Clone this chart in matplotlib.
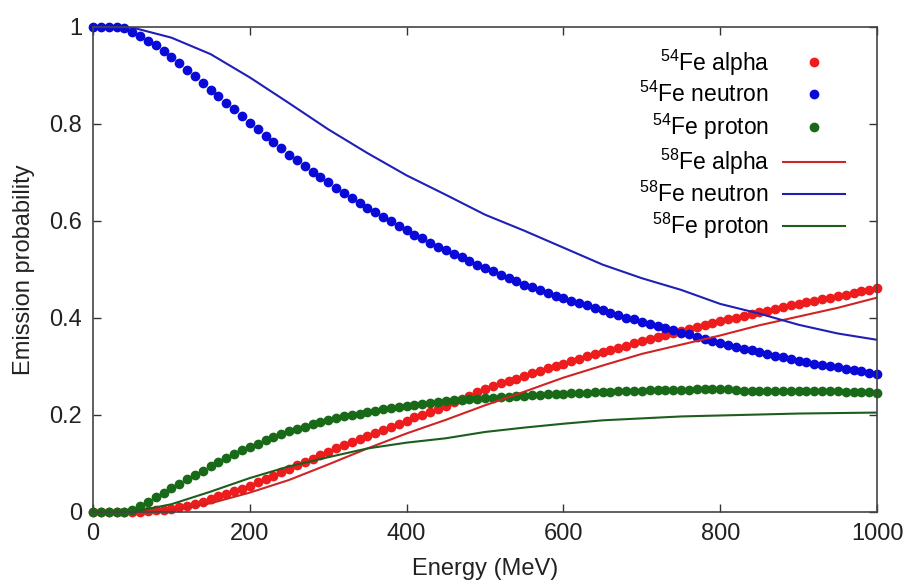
import matplotlib
matplotlib.use("Agg")
import matplotlib.pyplot as plt
import numpy as np

plt.rcParams["font.family"] = ["Liberation Sans", "DejaVu Sans"]
plt.rcParams["mathtext.fontset"] = "custom"
plt.rcParams["mathtext.rm"] = "Liberation Sans"

# 54Fe: Monte Carlo points every 10 MeV
energy_pts = list(range(0, 1001, 10))
fe54_alpha = [
    0.000, 0.000, 0.000, 0.000, 0.000, 0.000, 0.001, 0.002, 0.004, 0.005,
    0.007, 0.010, 0.013, 0.017, 0.021, 0.026, 0.032, 0.037, 0.043, 0.048,
    0.054, 0.061, 0.068, 0.075, 0.082, 0.089, 0.096, 0.103, 0.110, 0.117,
    0.124, 0.131, 0.138, 0.144, 0.151, 0.157, 0.163, 0.170, 0.176, 0.182,
    0.188, 0.195, 0.201, 0.207, 0.213, 0.219, 0.226, 0.233, 0.240, 0.247,
    0.253, 0.259, 0.265, 0.270, 0.275, 0.281, 0.286, 0.291, 0.296, 0.301,
    0.306, 0.311, 0.316, 0.321, 0.325, 0.330, 0.334, 0.339, 0.343, 0.348,
    0.352, 0.356, 0.360, 0.365, 0.369, 0.373, 0.377, 0.381, 0.385, 0.389,
    0.393, 0.397, 0.401, 0.404, 0.408, 0.412, 0.415, 0.419, 0.422, 0.426,
    0.429, 0.432, 0.436, 0.439, 0.442, 0.445, 0.448, 0.452, 0.455, 0.458,
    0.461,
]
fe54_neutron = [
    1.000, 1.000, 1.000, 0.999, 0.997, 0.990, 0.981, 0.972, 0.962, 0.950,
    0.938, 0.925, 0.911, 0.898, 0.885, 0.871, 0.857, 0.844, 0.830, 0.816,
    0.803, 0.789, 0.776, 0.762, 0.750, 0.737, 0.725, 0.713, 0.702, 0.691,
    0.680, 0.669, 0.658, 0.647, 0.637, 0.627, 0.618, 0.608, 0.599, 0.590,
    0.581, 0.572, 0.564, 0.555, 0.547, 0.540, 0.532, 0.525, 0.518, 0.510,
    0.503, 0.496, 0.489, 0.482, 0.476, 0.469, 0.463, 0.457, 0.452, 0.446,
    0.441, 0.436, 0.431, 0.426, 0.421, 0.416, 0.411, 0.406, 0.401, 0.397,
    0.392, 0.388, 0.384, 0.379, 0.375, 0.370, 0.366, 0.361, 0.357, 0.353,
    0.349, 0.345, 0.341, 0.337, 0.333, 0.329, 0.326, 0.322, 0.319, 0.315,
    0.312, 0.309, 0.306, 0.303, 0.300, 0.298, 0.295, 0.292, 0.290, 0.287,
    0.284,
]
fe54_proton = [
    0.000, 0.000, 0.000, 0.000, 0.000, 0.004, 0.012, 0.021, 0.030, 0.040,
    0.049, 0.058, 0.067, 0.076, 0.085, 0.094, 0.103, 0.111, 0.119, 0.127,
    0.134, 0.141, 0.148, 0.154, 0.160, 0.166, 0.171, 0.176, 0.181, 0.185,
    0.189, 0.193, 0.197, 0.200, 0.203, 0.206, 0.209, 0.212, 0.214, 0.217,
    0.219, 0.221, 0.223, 0.225, 0.227, 0.228, 0.230, 0.231, 0.233, 0.234,
    0.235, 0.236, 0.237, 0.238, 0.239, 0.240, 0.241, 0.242, 0.243, 0.244,
    0.244, 0.245, 0.246, 0.246, 0.247, 0.248, 0.248, 0.249, 0.249, 0.250,
    0.250, 0.251, 0.251, 0.252, 0.252, 0.252, 0.252, 0.253, 0.253, 0.253,
    0.253, 0.253, 0.252, 0.250, 0.250, 0.250, 0.250, 0.250, 0.250, 0.249,
    0.249, 0.249, 0.249, 0.249, 0.249, 0.249, 0.248, 0.248, 0.248, 0.248,
    0.246,
]

# 58Fe: curves read every 50 MeV
energy_line = list(range(0, 1001, 50))
fe58_alpha = [0.000, 0.000, 0.004, 0.018, 0.040, 0.066, 0.098, 0.131, 0.162,
              0.190, 0.220, 0.248, 0.277, 0.302, 0.326, 0.345, 0.364, 0.385,
              0.403, 0.421, 0.442]
fe58_neutron = [1.000, 0.999, 0.978, 0.944, 0.896, 0.843, 0.789, 0.740, 0.694,
                0.654, 0.613, 0.580, 0.545, 0.510, 0.482, 0.458, 0.429, 0.409,
                0.386, 0.368, 0.355]
fe58_proton = [0.000, 0.000, 0.016, 0.042, 0.070, 0.094, 0.113, 0.131, 0.143,
               0.152, 0.165, 0.174, 0.182, 0.189, 0.193, 0.197, 0.199, 0.201,
               0.203, 0.204, 0.205]

x_ticks = [0, 200, 400, 600, 800, 1000]
y_ticks = [0, 0.2, 0.4, 0.6, 0.8, 1]
y_tick_labels = ["0", "0.2", "0.4", "0.6", "0.8", "1"]

fig = plt.figure(figsize=(9.04, 5.83), dpi=100)
ax = fig.add_axes([0.1029, 0.1218, 0.8673, 0.8319])

ms = 6
ax.plot(energy_pts, fe54_alpha, "o", ms=ms, color="#ee1c1c", mec="#ee1c1c",
        clip_on=False, label=r"$^{54}$Fe alpha")
ax.plot(energy_pts, fe54_neutron, "o", ms=ms, color="#0a0ad8", mec="#0a0ad8",
        clip_on=False, label=r"$^{54}$Fe neutron")
ax.plot(energy_pts, fe54_proton, "o", ms=ms, color="#186a18", mec="#186a18",
        clip_on=False, label=r"$^{54}$Fe proton")
ax.plot(energy_line, fe58_alpha, "-", lw=1.5, color="#d02424",
        label=r"$^{58}$Fe alpha")
ax.plot(energy_line, fe58_neutron, "-", lw=1.5, color="#1f1fb8",
        label=r"$^{58}$Fe neutron")
ax.plot(energy_line, fe58_proton, "-", lw=1.5, color="#1d5e1d",
        label=r"$^{58}$Fe proton")

ax.set_xlim(0, 1000)
ax.set_ylim(0, 1)
ax.set_xticks(x_ticks)
ax.set_yticks(y_ticks)
ax.set_yticklabels(y_tick_labels)
ax.tick_params(direction="in", length=6, width=1, top=True, right=True,
               labelsize=17, color="#333333", pad=8, labelcolor="#222222")
for s in ax.spines.values():
    s.set_color("#444444")
    s.set_linewidth(1.2)

ax.set_xlabel("Energy (MeV)", fontsize=17, labelpad=9, color="#222222")
ax.set_ylabel("Emission probability", fontsize=17, labelpad=10,
              color="#222222")

ax.legend(loc="upper right", bbox_to_anchor=(0.959, 0.958), frameon=False,
          markerfirst=False, fontsize=16.5, handlelength=2.7,
          handletextpad=0.6, labelspacing=0.2, borderpad=0,
          borderaxespad=0)

fig.savefig("out.png", dpi=100)
